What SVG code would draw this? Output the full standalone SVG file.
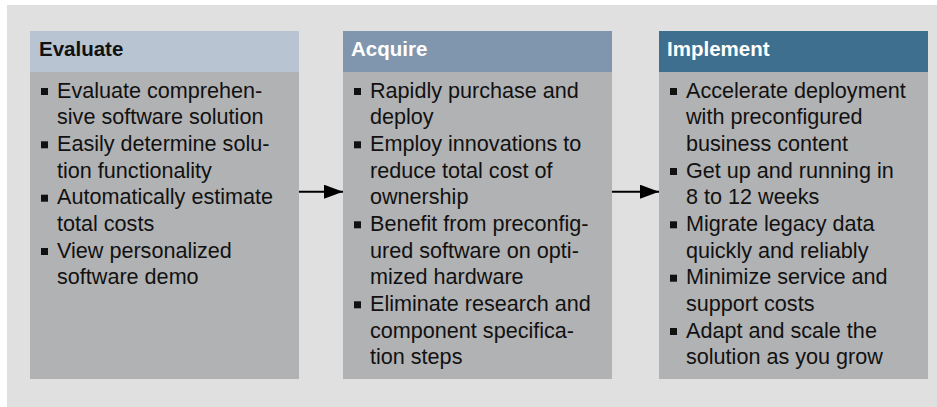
<svg xmlns="http://www.w3.org/2000/svg" width="937" height="407" viewBox="0 0 937 407">
<style>
.body{fill:#b1b2b4}
.t{font-family:"Liberation Sans",Arial,sans-serif;font-size:21.6px;fill:#111}
.h{font-family:"Liberation Sans",Arial,sans-serif;font-size:20.5px;font-weight:bold}
.b{fill:#111}
</style>
<defs>
<marker id="ah" markerWidth="19" markerHeight="14" refX="19" refY="7" orient="auto" markerUnits="userSpaceOnUse">
<path d="M0,0 L19,7 L0,14 Z" fill="#000"/>
</marker>
</defs>
<rect width="937" height="407" fill="#fff"/>
<rect x="7" y="5" width="930" height="402" fill="#dfe0df"/>
<g id="evaluate">
<rect class="body" x="30" y="31" width="269" height="348"/>
<rect x="30" y="31" width="269" height="41" fill="#b8c4d1"/>
<text class="h" x="39" y="56" fill="#111">Evaluate</text>
<rect class="b" x="41" y="88" width="7" height="7"/>
<rect class="b" x="41" y="141.3" width="7" height="7"/>
<rect class="b" x="41" y="194.7" width="7" height="7"/>
<rect class="b" x="41" y="248" width="7" height="7"/>
<text class="t" x="57" y="97.7">Evaluate comprehen-</text>
<text class="t" x="57" y="124.3">sive software solution</text>
<text class="t" x="57" y="151">Easily determine solu-</text>
<text class="t" x="57" y="177.7">tion functionality</text>
<text class="t" x="57" y="204.3">Automatically estimate</text>
<text class="t" x="57" y="231">total costs</text>
<text class="t" x="57" y="257.7">View personalized</text>
<text class="t" x="57" y="284.3">software demo</text>
</g>
<g id="acquire">
<rect class="body" x="343" y="31" width="269" height="348"/>
<rect x="343" y="31" width="269" height="41" fill="#7f96ae"/>
<text class="h" x="351" y="56" fill="#fff">Acquire</text>
<rect class="b" x="354" y="88" width="7" height="7"/>
<rect class="b" x="354" y="141.3" width="7" height="7"/>
<rect class="b" x="354" y="221.3" width="7" height="7"/>
<rect class="b" x="354" y="301.3" width="7" height="7"/>
<text class="t" x="370" y="97.7">Rapidly purchase and</text>
<text class="t" x="370" y="124.3">deploy</text>
<text class="t" x="370" y="151">Employ innovations to</text>
<text class="t" x="370" y="177.7">reduce total cost of</text>
<text class="t" x="370" y="204.3">ownership</text>
<text class="t" x="370" y="231">Benefit from preconfig-</text>
<text class="t" x="370" y="257.7">ured software on opti-</text>
<text class="t" x="370" y="284.3">mized hardware</text>
<text class="t" x="370" y="311">Eliminate research and</text>
<text class="t" x="370" y="337.7">component specifica-</text>
<text class="t" x="370" y="364.3">tion steps</text>
</g>
<g id="implement">
<rect class="body" x="659" y="31" width="269" height="348"/>
<rect x="659" y="31" width="269" height="41" fill="#3f6f8e"/>
<text class="h" x="667" y="56" fill="#fff">Implement</text>
<rect class="b" x="670" y="88" width="7" height="7"/>
<rect class="b" x="670" y="168" width="7" height="7"/>
<rect class="b" x="670" y="221.3" width="7" height="7"/>
<rect class="b" x="670" y="274.7" width="7" height="7"/>
<rect class="b" x="670" y="328" width="7" height="7"/>
<text class="t" x="686" y="97.7">Accelerate deployment</text>
<text class="t" x="686" y="124.3">with preconfigured</text>
<text class="t" x="686" y="151">business content</text>
<text class="t" x="686" y="177.7">Get up and running in</text>
<text class="t" x="686" y="204.3">8 to 12 weeks</text>
<text class="t" x="686" y="231">Migrate legacy data</text>
<text class="t" x="686" y="257.7">quickly and reliably</text>
<text class="t" x="686" y="284.3">Minimize service and</text>
<text class="t" x="686" y="311">support costs</text>
<text class="t" x="686" y="337.7">Adapt and scale the</text>
<text class="t" x="686" y="364.3">solution as you grow</text>
</g>
<g id="connectors" stroke="#000" stroke-width="2" fill="none">
<line x1="299" y1="191.7" x2="343" y2="191.7" marker-end="url(#ah)"/>
<line x1="612" y1="191.7" x2="659" y2="191.7" marker-end="url(#ah)"/>
</g>
</svg>
